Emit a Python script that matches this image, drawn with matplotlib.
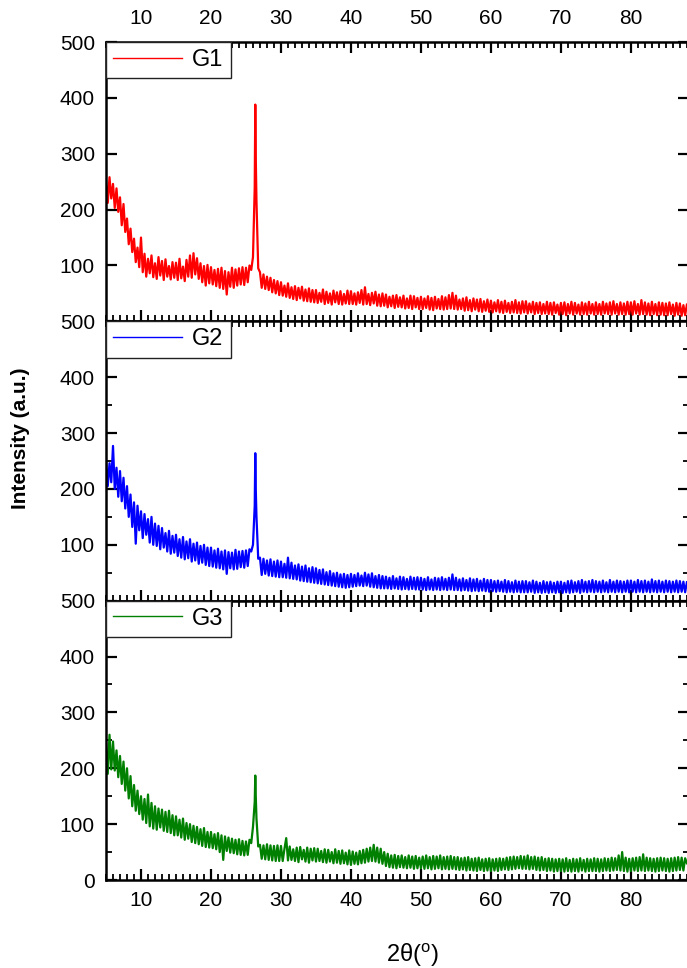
import matplotlib
matplotlib.use('Agg')
import matplotlib.pyplot as plt
from matplotlib.ticker import MultipleLocator
import numpy as np

plt.rcParams['font.family'] = ['Liberation Sans', 'DejaVu Sans']
plt.rcParams['mathtext.fontset'] = 'custom'
plt.rcParams['mathtext.rm'] = 'Liberation Sans'

# 2theta grid (0.25 deg step)
two_theta = np.arange(5, 88.001, 0.25)

g1 = [
    251, 212, 258, 220, 246, 203, 238, 196, 222, 172, 210, 160, 184, 138, 166, 124, 148, 106, 132, 97,
    150, 88, 121, 80, 112, 86, 118, 79, 104, 76, 115, 82, 108, 74, 111, 80, 99, 75, 106, 78,
    105, 74, 112, 77, 98, 72, 110, 80, 118, 78, 122, 84, 113, 76, 104, 70, 99, 64, 101, 68,
    97, 66, 92, 63, 94, 60, 96, 58, 90, 48, 88, 62, 96, 60, 93, 64, 95, 66, 97, 65,
    96, 70, 100, 92, 115, 240, 215, 95, 88, 60, 84, 58, 80, 56, 78, 52, 74, 50, 72, 47,
    70, 46, 64, 44, 68, 42, 61, 40, 63, 38, 60, 41, 62, 37, 57, 36, 59, 35, 56, 34,
    56, 33, 51, 35, 57, 31, 53, 33, 50, 30, 55, 34, 52, 31, 54, 30, 49, 32, 55, 31,
    54, 31, 50, 30, 52, 33, 56, 30, 61, 31, 49, 29, 51, 32, 53, 28, 48, 27, 50, 28,
    48, 25, 44, 27, 46, 24, 47, 26, 43, 25, 46, 23, 41, 24, 46, 22, 45, 25, 42, 22,
    44, 22, 41, 24, 45, 21, 42, 20, 44, 23, 40, 22, 45, 21, 43, 22, 47, 23, 51, 22,
    46, 21, 39, 22, 41, 19, 43, 20, 38, 18, 41, 21, 39, 18, 40, 17, 36, 19, 39, 17,
    37, 16, 34, 18, 38, 16, 35, 15, 37, 17, 33, 15, 35, 16, 38, 15, 34, 14, 36, 16,
    36, 14, 32, 16, 35, 13, 33, 15, 34, 13, 31, 14, 35, 13, 33, 12, 34, 15, 30, 12,
    33, 13, 34, 11, 31, 14, 35, 12, 33, 14, 30, 12, 34, 13, 32, 12, 35, 14, 31, 12,
    34, 13, 31, 12, 35, 14, 32, 13, 34, 12, 36, 14, 31, 12, 34, 13, 32, 12, 35, 13,
    34, 12, 36, 14, 31, 12, 38, 13, 34, 12, 32, 11, 35, 13, 31, 11, 34, 12, 33, 11,
    32, 11, 34, 13, 30, 10, 33, 12, 32, 10, 29, 11, 30,
]
g2 = [
    252, 205, 246, 212, 277, 200, 238, 186, 232, 178, 220, 165, 205, 150, 190, 132, 176, 102, 170, 126,
    160, 112, 155, 118, 146, 104, 150, 100, 138, 98, 134, 92, 130, 95, 121, 88, 125, 84, 116, 86,
    118, 80, 110, 77, 114, 74, 106, 76, 110, 70, 102, 72, 104, 66, 98, 68, 100, 64, 95, 62,
    95, 61, 90, 59, 93, 58, 88, 56, 90, 48, 87, 58, 86, 56, 91, 57, 88, 60, 89, 59,
    90, 62, 92, 88, 100, 170, 150, 75, 77, 46, 75, 48, 72, 45, 74, 44, 70, 43, 72, 42,
    70, 42, 66, 41, 77, 40, 68, 39, 63, 38, 65, 36, 61, 35, 63, 34, 58, 33, 60, 32,
    58, 31, 55, 30, 56, 29, 51, 28, 53, 27, 49, 26, 50, 25, 47, 24, 48, 23, 46, 24,
    48, 25, 46, 26, 49, 27, 45, 26, 50, 27, 47, 25, 49, 24, 44, 23, 46, 22, 44, 22,
    43, 22, 41, 21, 44, 22, 40, 21, 43, 20, 42, 21, 39, 20, 43, 21, 41, 20, 42, 20,
    41, 20, 39, 19, 42, 20, 38, 19, 41, 20, 40, 19, 42, 20, 39, 19, 41, 20, 47, 19,
    41, 19, 38, 18, 40, 19, 37, 18, 40, 17, 38, 18, 39, 17, 36, 18, 39, 17, 37, 16,
    37, 17, 35, 16, 36, 17, 34, 16, 37, 15, 35, 16, 33, 15, 36, 16, 34, 15, 35, 15,
    35, 15, 33, 16, 36, 14, 34, 15, 32, 14, 35, 15, 33, 14, 34, 15, 32, 14, 34, 15,
    34, 14, 32, 15, 35, 14, 36, 15, 33, 16, 35, 14, 37, 16, 34, 15, 35, 16, 37, 15,
    35, 16, 34, 15, 36, 16, 33, 15, 37, 16, 34, 15, 36, 16, 35, 15, 34, 16, 36, 15,
    36, 16, 34, 15, 37, 16, 35, 15, 36, 16, 34, 15, 38, 16, 35, 15, 36, 16, 34, 15,
    36, 16, 35, 15, 34, 16, 36, 15, 35, 16, 34, 15, 33,
]
g3 = [
    245, 190, 260, 198, 248, 196, 232, 184, 222, 172, 212, 160, 200, 146, 186, 132, 170, 124, 160, 118,
    150, 108, 145, 102, 153, 96, 138, 92, 132, 90, 128, 94, 126, 88, 122, 86, 124, 84, 116, 80,
    114, 80, 108, 76, 110, 72, 102, 74, 100, 68, 97, 66, 95, 64, 91, 61, 93, 59, 86, 58,
    86, 57, 82, 55, 84, 50, 80, 36, 78, 52, 76, 49, 74, 48, 72, 46, 73, 45, 70, 44,
    69, 45, 72, 66, 95, 140, 110, 60, 63, 38, 62, 37, 64, 36, 62, 35, 61, 34, 62, 34,
    61, 34, 56, 75, 35, 60, 36, 55, 34, 58, 32, 59, 37, 54, 33, 58, 31, 56, 35, 57,
    33, 56, 34, 52, 32, 55, 31, 54, 33, 50, 30, 55, 31, 52, 29, 53, 30, 49, 28, 53,
    27, 51, 29, 49, 28, 52, 30, 54, 31, 56, 33, 58, 34, 63, 33, 58, 31, 56, 29, 50,
    25, 47, 23, 44, 22, 45, 21, 43, 23, 44, 22, 41, 21, 44, 22, 42, 20, 43, 21, 40,
    21, 42, 20, 44, 21, 41, 19, 43, 20, 42, 21, 44, 19, 41, 20, 42, 19, 43, 20, 41,
    19, 41, 18, 39, 19, 40, 17, 41, 18, 38, 17, 39, 16, 40, 18, 37, 16, 38, 17, 39,
    16, 37, 17, 38, 16, 39, 18, 38, 19, 40, 18, 41, 19, 42, 20, 41, 21, 43, 20, 42,
    20, 44, 19, 41, 20, 42, 18, 40, 17, 41, 18, 38, 16, 39, 17, 38, 15, 37, 16, 38,
    16, 37, 15, 39, 16, 36, 15, 38, 16, 37, 15, 39, 17, 36, 15, 38, 16, 37, 16, 39,
    16, 38, 15, 37, 16, 39, 17, 38, 16, 40, 17, 39, 18, 44, 17, 50, 16, 40, 15, 38,
    16, 39, 17, 40, 16, 41, 17, 46, 16, 40, 17, 39, 16, 38, 15, 39, 16, 40, 17, 39,
    16, 38, 15, 39, 16, 40, 17, 41, 18, 40, 17, 39, 30,
]

# sharp reflection near 26.4 deg, sampled finer than the grid
peak_x = [26.33, 26.40]
g1_peak = [388, 294]
g2_peak = [264, 200]
g3_peak = [187, 150]

labels = ['G1', 'G2', 'G3']
colors = ['#ff0000', '#0000ff', '#008000']


def merge(vals, pk):
    xx = np.concatenate([two_theta, peak_x])
    yy = np.concatenate([vals, pk])
    order = np.argsort(xx, kind='stable')
    return xx[order], yy[order]


fig, axes = plt.subplots(3, 1, figsize=(6.87, 9.68), dpi=100)
fig.subplots_adjust(left=0.1543, right=1.0029, top=0.9566, bottom=0.0909, hspace=0)

series = [(g1, g1_peak), (g2, g2_peak), (g3, g3_peak)]
for i, ax in enumerate(axes):
    xx, yy = merge(*series[i])
    ax.plot(xx, yy, color=colors[i], lw=1.6, label=labels[i])
    ax.set_xlim(5, 88.3)
    ax.set_ylim(0, 500)
    ax.xaxis.set_major_locator(MultipleLocator(10))
    ax.xaxis.set_minor_locator(MultipleLocator(1))
    if i == 2:
        ax.set_yticks([0, 100, 200, 300, 400, 500])
    else:
        ax.set_yticks([100, 200, 300, 400, 500])
    if i > 0:
        ax.yaxis.set_minor_locator(MultipleLocator(50))
    ax.tick_params(which='both', direction='in', top=True, right=True,
                   labelsize=15, width=1.6, pad=8)
    ax.tick_params(which='major', length=8)
    ax.tick_params(which='minor', length=4.5, width=1.3)
    ax.tick_params(axis='x', labeltop=(i == 0), labelbottom=(i == 2))
    if i == 0:
        ax.tick_params(axis='x', pad=10)
    for s in ax.spines.values():
        s.set_linewidth(1.8)
    leg = ax.legend(loc='upper left', borderaxespad=0, fancybox=False,
                    edgecolor='#222222', framealpha=1, fontsize=17,
                    handlelength=2.9, handletextpad=0.45, borderpad=0.3)
    leg.get_frame().set_linewidth(1.0)
    for ln in leg.get_lines():
        ln.set_linewidth(1.0)

fig.text(0.03, 0.5475, 'Intensity (a.u.)', rotation=90, fontsize=15,
         fontweight='bold', ha='center', va='center')
fig.text(0.601, 0.0135, '2θ($^{\\mathrm{o}}$)', fontsize=17, ha='center', va='center')

fig.savefig('out.png', dpi=100)
